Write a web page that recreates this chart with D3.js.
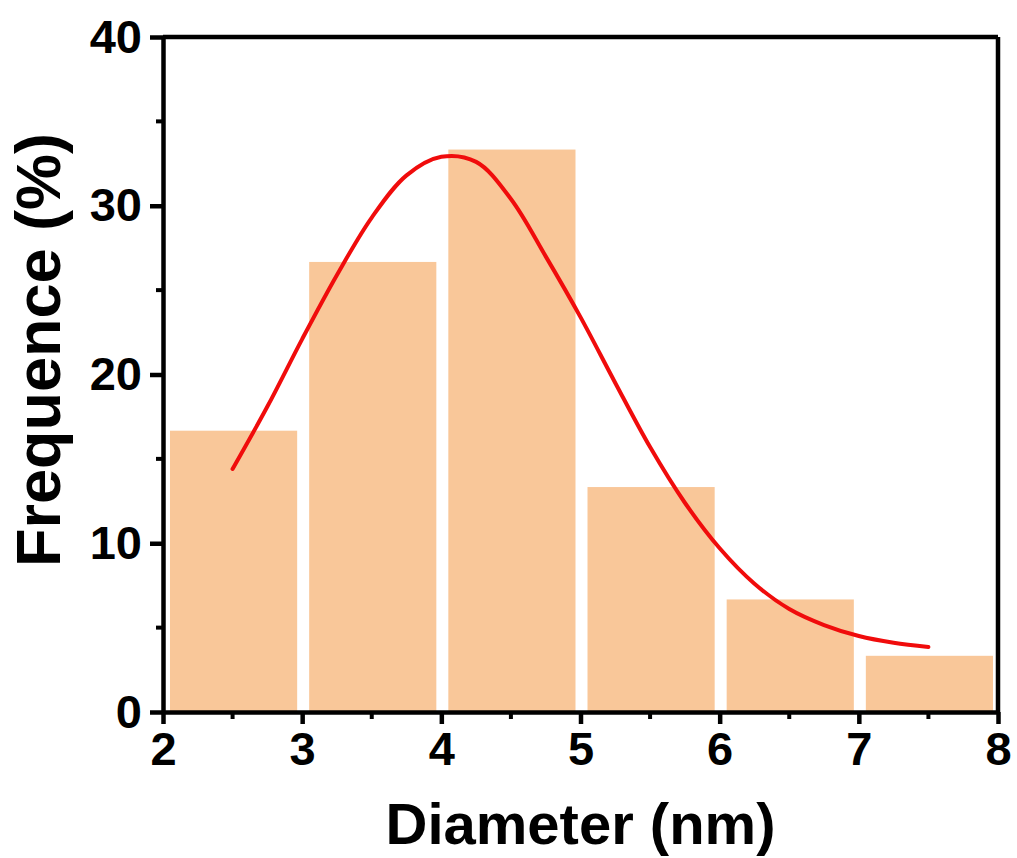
<!DOCTYPE html>
<html>
<head>
<meta charset="utf-8">
<script src="https://cdn.jsdelivr.net/npm/d3@7"></script>
<style>
  body { margin: 0; background: #fff; }
  text { font-family: "Liberation Sans", Arial, sans-serif; font-weight: bold; }
</style>
</head>
<body>
<div id="chart-area"></div>
<script>
// histogram bins (nm) and frequency (%)
var binStarts = [2, 3, 4, 5, 6, 7];
var binEnds = [3, 4, 5, 6, 7, 8];
var freqValues = [16.67, 26.67, 33.33, 13.33, 6.67, 3.33];

// fitted curve
var fitX = [2.5, 2.75, 3.0, 3.25, 3.5, 3.75, 4.0, 4.25, 4.5, 4.75, 5.0, 5.25, 5.5, 5.75, 6.0, 6.25, 6.5, 6.75, 7.0, 7.25, 7.5];
var fitY = [14.4, 18.1, 22.1, 25.9, 29.3, 31.8, 32.9, 32.6, 30.4, 27.0, 23.4, 19.5, 15.7, 12.4, 9.7, 7.6, 6.1, 5.15, 4.5, 4.1, 3.85];

var xTicks = [2, 3, 4, 5, 6, 7, 8];
var yTicks = [0, 10, 20, 30, 40];

var margin = {top: 37, right: 19, bottom: 146, left: 163};
var width = 1017 - margin.left - margin.right;
var height = 858 - margin.top - margin.bottom;

var svg = d3.select("#chart-area")
            .append("svg")
            .attr("width", 1017)
            .attr("height", 858)
            .append("g")
            .attr("transform", "translate(" + margin.left + "," + margin.top + ")");

var x = d3.scaleLinear().domain([2, 8]).range([0, width]);
var y = d3.scaleLinear().domain([0, 40]).range([height, 0]);

var bins = binStarts.map(function(s, i) { return {x0: s, x1: binEnds[i], v: freqValues[i]}; });

svg.selectAll(".bar")
    .data(bins)
    .enter()
    .append("rect")
    .attr("class", "bar")
    .attr("fill", "#f9c799")
    .attr("x", function(d) { return x(d.x0) + 7; })
    .attr("width", function(d) { return x(d.x1) - x(d.x0) - 12; })
    .attr("y", function(d) { return y(d.v); })
    .attr("height", function(d) { return height - y(d.v); });

var line = d3.line()
    .x(function(d) { return x(d[0]); })
    .y(function(d) { return y(d[1]); })
    .curve(d3.curveCatmullRom);

svg.append("path")
    .datum(fitX.map(function(v, i) { return [v, fitY[i]]; }))
    .attr("fill", "none")
    .attr("stroke", "#f00c0c")
    .attr("stroke-width", 4)
    .attr("stroke-linecap", "round")
    .attr("d", line);

// minor ticks
var minorX = d3.range(2.5, 8, 1);
var minorY = d3.range(5, 40, 10);

svg.selectAll(".mx").data(minorX).enter().append("line")
    .attr("x1", function(d) { return x(d); }).attr("x2", function(d) { return x(d); })
    .attr("y1", height).attr("y2", height + 7)
    .attr("stroke", "#000").attr("stroke-width", 4);

svg.selectAll(".my").data(minorY).enter().append("line")
    .attr("y1", function(d) { return y(d); }).attr("y2", function(d) { return y(d); })
    .attr("x1", 0).attr("x2", -7)
    .attr("stroke", "#000").attr("stroke-width", 4);

var xAxis = svg.append("g")
    .attr("transform", "translate(0," + height + ")")
    .call(d3.axisBottom(x).tickValues(xTicks).tickFormat(d3.format("d"))
        .tickSize(12).tickSizeOuter(0).tickPadding(8));

var yAxis = svg.append("g")
    .call(d3.axisLeft(y).tickValues(yTicks).tickFormat(d3.format("d"))
        .tickSize(13).tickSizeOuter(0).tickPadding(8));

[xAxis, yAxis].forEach(function(a) {
    a.select(".domain").attr("stroke", "#000").attr("stroke-width", 4.5);
    a.selectAll(".tick line").attr("stroke", "#000").attr("stroke-width", 4.5);
    a.selectAll(".tick text").attr("fill", "#000").style("font-size", "47px")
        .style("font-family", "'Liberation Sans', Arial, sans-serif").style("font-weight", "bold");
});

// top and right frame
svg.append("line").attr("x1", 0).attr("x2", width).attr("y1", 0).attr("y2", 0)
    .attr("stroke", "#000").attr("stroke-width", 4.5);
svg.append("line").attr("x1", width).attr("x2", width).attr("y1", 0).attr("y2", height)
    .attr("stroke", "#000").attr("stroke-width", 4.5);

svg.append("text")
    .attr("x", width / 2)
    .attr("y", height + 132)
    .attr("text-anchor", "middle")
    .attr("font-size", "58px")
    .text("Diameter (nm)");

svg.append("text")
    .attr("transform", "rotate(-90)")
    .attr("x", -313)
    .attr("y", -103)
    .attr("text-anchor", "middle")
    .attr("font-size", "63px")
    .text("Frequence (%)");
</script>
</body>
</html>
